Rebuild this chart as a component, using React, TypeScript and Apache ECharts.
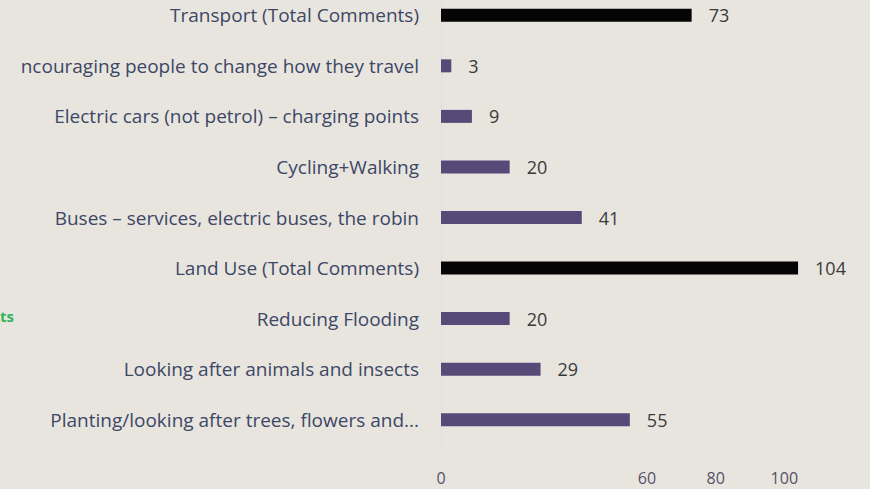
import React, { useEffect, useRef } from "react";
import * as echarts from "echarts";

const categories = [
  "Transport (Total Comments)",
  "ncouraging people to change how they travel",
  "Electric cars (not petrol) – charging points",
  "Cycling+Walking",
  "Buses – services, electric buses, the robin",
  "Land Use (Total Comments)",
  "Reducing Flooding",
  "Looking after animals and insects",
  "Planting/looking after trees, flowers and...",
];
const values = [73, 3, 9, 20, 41, 104, 20, 29, 55];
const isTotal = [true, false, false, false, false, true, false, false, false];
const shownTicks = [0, 60, 80, 100];

export default function App() {
  const ref = useRef<HTMLDivElement>(null);
  useEffect(() => {
    if (!ref.current) return;
    const chart = echarts.init(ref.current, null, { renderer: "svg" });
    chart.setOption({
      animation: false,
      backgroundColor: "#e8e5df",
      textStyle: { fontFamily: "Open Sans" },
      grid: { left: 441, right: 17, top: 0, bottom: 44, containLabel: false },
      xAxis: {
        type: "value",
        min: 0,
        max: 120,
        interval: 20,
        axisLine: { show: false },
        axisTick: { show: false },
        splitLine: { show: false },
        axisLabel: {
          margin: 25,
          fontSize: 16,
          color: "#55506a",
          fontFamily: "Open Sans",
          formatter: (v: number) => (shownTicks.includes(v) ? String(v) : ""),
        },
      },
      yAxis: {
        type: "category",
        inverse: true,
        data: categories,
        axisLine: { show: true, lineStyle: { color: "#d3e2e8", width: 1 } },
        axisTick: { show: false },
        axisLabel: { margin: 22, fontSize: 19, color: "#3d4766", fontFamily: "Open Sans" },
      },
      graphic: [
        {
          type: "text",
          left: 0,
          top: 318,
          style: { text: "ts", fill: "#2fb55a", font: "bold 15px Open Sans" },
        },
      ],
      series: [
        {
          type: "bar",
          barWidth: 13,
          data: values.map((v, i) => ({
            value: v,
            itemStyle: { color: isTotal[i] ? "#050505" : "#574a78" },
          })),
          label: {
            show: true,
            position: "right",
            distance: 17,
            fontSize: 18,
            fontFamily: "Open Sans",
            color: "#3a3a3a",
          },
        },
      ],
    });
    return () => chart.dispose();
  }, []);
  return (
    <div
      ref={ref}
      style={{ position: "fixed", left: 0, top: -10, width: 870, height: 499 }}
    />
  );
}
